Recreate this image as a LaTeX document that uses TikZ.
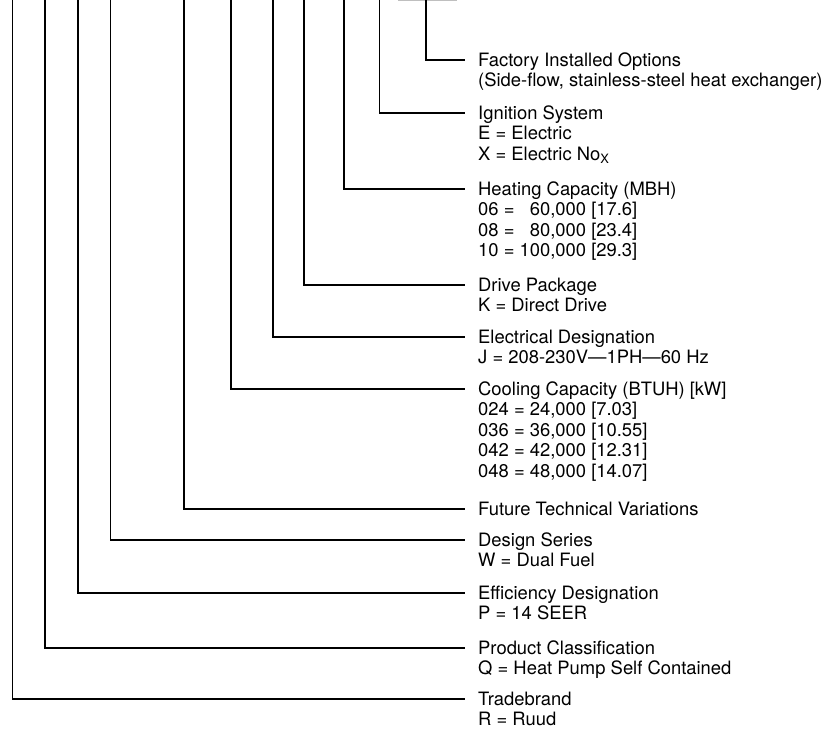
\documentclass[tikz,border=0pt]{standalone}
\usepackage{fontspec}
\setmainfont{TeX Gyre Heros}
\newcommand{\keylines}[1]{\begin{tabular}[t]{@{}l@{}}#1\end{tabular}}
\begin{document}
\begin{tikzpicture}[x=1pt,y=-1pt,
		lbl/.style={anchor=base west,inner sep=0pt,font=\fontsize{18.4}{20.5}\selectfont},
		lead/.style={line width=1.1pt}]
			%\draw[red] (0,0) rectangle (840,734);
			\useasboundingbox (0,0) rectangle (840,734);
			\coordinate (Topt) at (426,0);
			\coordinate (Tign) at (379.5,0);
			\coordinate (Theat) at (344,0);
			\coordinate (Tdrive) at (304,0);
			\coordinate (Telec) at (273,0);
			\coordinate (Tcool) at (231,0);
			\coordinate (Tfut) at (184,0);
			\coordinate (Tser) at (110.5,0);
			\coordinate (Teff) at (78,0);
			\coordinate (Tprod) at (45,0);
			\coordinate (Tbrand) at (12.5,0);
			\coordinate (Ga) at (398,0.6);
			\coordinate (Gb) at (457,0.6);
			\node[lbl] (Lopt) at (478,66) {\keylines{Factory Installed Options\\(Side-flow, stainless-steel heat exchanger)}};
			\node[lbl] (Lign) at (478,119) {\keylines{Ignition System\\E = Electric\\X = Electric No\textsubscript{X}}};
			\node[lbl] (Lheat) at (478,195) {\keylines{Heating Capacity (MBH)\\06 = \phantom{1}60,000 [17.6]\\08 = \phantom{1}80,000 [23.4]\\10 = 100,000 [29.3]}};
			\node[lbl] (Ldrive) at (478,291) {\keylines{Drive Package\\K = Direct Drive}};
			\node[lbl] (Lelec) at (478,343) {\keylines{Electrical Designation\\J = 208-230V---1PH---60 Hz}};
			\node[lbl] (Lcool) at (478,395) {\keylines{Cooling Capacity (BTUH) [kW]\\024 = 24,000 [7.03]\\036 = 36,000 [10.55]\\042 = 42,000 [12.31]\\048 = 48,000 [14.07]}};
			\node[lbl] (Lfut) at (478,515) {\keylines{Future Technical Variations}};
			\node[lbl] (Lser) at (478,546) {\keylines{Design Series\\W = Dual Fuel}};
			\node[lbl] (Leff) at (478,599) {\keylines{Efficiency Designation\\P = 14 SEER}};
			\node[lbl] (Lprod) at (478,654) {\keylines{Product Classification\\Q = Heat Pump Self Contained}};
			\node[lbl] (Lbrand) at (478,705) {\keylines{Tradebrand\\R = Ruud}};
			\draw [line width=1pt,black!25] (Ga) to (Gb);
			\draw [lead] (Topt) |- ([shift={(-13pt,6pt)}]Lopt.base west);
			\draw [lead] (Tign) |- ([shift={(-13pt,6pt)}]Lign.base west);
			\draw [lead] (Theat) |- ([shift={(-13pt,6pt)}]Lheat.base west);
			\draw [lead] (Tdrive) |- ([shift={(-13pt,6pt)}]Ldrive.base west);
			\draw [lead] (Telec) |- ([shift={(-13pt,6pt)}]Lelec.base west);
			\draw [lead] (Tcool) |- ([shift={(-13pt,6pt)}]Lcool.base west);
			\draw [lead] (Tfut) |- ([shift={(-13pt,6pt)}]Lfut.base west);
			\draw [lead] (Tser) |- ([shift={(-13pt,6pt)}]Lser.base west);
			\draw [lead] (Teff) |- ([shift={(-13pt,6pt)}]Leff.base west);
			\draw [lead] (Tprod) |- ([shift={(-13pt,6pt)}]Lprod.base west);
			\draw [lead] (Tbrand) |- ([shift={(-13pt,6pt)}]Lbrand.base west);
		\end{tikzpicture}
\end{document}
